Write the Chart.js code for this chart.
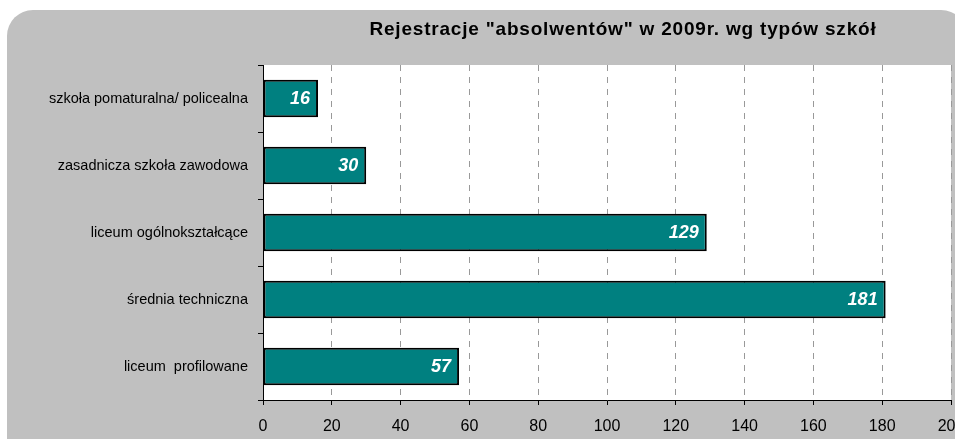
<!DOCTYPE html>
<html>
<head>
<meta charset="utf-8">
<script src="https://cdn.jsdelivr.net/npm/chart.js@4.4.0/dist/chart.umd.min.js"></script>
<style>
  html, body { margin: 0; padding: 0; background: #fff; }
  #wrap { width: 955px; height: 439px; position: relative; }
</style>
</head>
<body>
<div id="wrap"><canvas id="schoolChart"></canvas></div>
<script>
// data
const chartTitle = 'Rejestracje "absolwentów" w 2009r. wg typów szkół';
const schoolTypes = [
  'szkoła pomaturalna/ policealna',
  'zasadnicza szkoła zawodowa',
  'liceum ogólnokształcące',
  'średnia techniczna',
  'liceum  profilowane'
];
const registrations = [16, 30, 129, 181, 57];
const axisMin = 0;
const axisMax = 200;
const axisStep = 20;

const FONT = 'Arial, "Liberation Sans", sans-serif';

// gray rounded panel + white plot area + title
const panelPlugin = {
  id: 'panel',
  beforeDraw(chart) {
    const { ctx, chartArea } = chart;
    ctx.save();
    ctx.fillStyle = '#c0c0c0';
    ctx.beginPath();
    ctx.roundRect(7, 10, 960, 460, 26);
    ctx.fill();
    ctx.fillStyle = '#ffffff';
    ctx.fillRect(chartArea.left, chartArea.top, chartArea.right - chartArea.left, chartArea.bottom - chartArea.top);
    ctx.fillStyle = '#000';
    ctx.font = 'bold 19px ' + FONT;
    ctx.letterSpacing = '0.8px';
    ctx.textAlign = 'center';
    ctx.textBaseline = 'middle';
    ctx.fillText(chartTitle, 623, 30);
    ctx.restore();
  }
};

// value labels inside the bar ends
const valueLabels = {
  id: 'valueLabels',
  afterDatasetsDraw(chart) {
    const { ctx } = chart;
    const meta = chart.getDatasetMeta(0);
    ctx.save();
    ctx.fillStyle = '#ffffff';
    ctx.font = 'italic bold 18px ' + FONT;
    ctx.textAlign = 'right';
    ctx.textBaseline = 'middle';
    meta.data.forEach((bar, i) => {
      ctx.fillText(String(registrations[i]), bar.x - 8, bar.y + 1);
    });
    ctx.restore();
  }
};

const ctx = document.getElementById('schoolChart').getContext('2d');
new Chart(ctx, {
  type: 'bar',
  data: {
    labels: schoolTypes,
    datasets: [{
      data: registrations,
      backgroundColor: '#008080',
      borderColor: '#000000',
      borderWidth: 2,
      borderSkipped: false,
      categoryPercentage: 1,
      barPercentage: 0.56
    }]
  },
  options: {
    indexAxis: 'y',
    responsive: true,
    maintainAspectRatio: false,
    animation: false,
    layout: { padding: { left: 0, right: 4, top: 65, bottom: 0 } },
    plugins: {
      legend: { display: false },
      tooltip: { enabled: false },
      title: { display: false }
    },
    scales: {
      x: {
        min: axisMin,
        max: axisMax,
        ticks: {
          stepSize: axisStep,
          color: '#000',
          font: { family: FONT, size: 16 },
          padding: 12,
          maxRotation: 0
        },
        grid: {
          color: '#999999',
          lineWidth: 1,
          tickColor: '#000',
          tickLength: 5,
          drawTicks: true
        },
        border: { display: true, color: '#000', width: 1, dash: [6, 6] },
        afterFit(scale) {
          scale.height = 39;
          scale.paddingLeft = 0;
          scale.paddingRight = 0;
        }
      },
      y: {
        ticks: {
          color: '#000',
          font: { family: FONT, size: 14.5 },
          padding: 10
        },
        grid: {
          offset: true,
          drawOnChartArea: false,
          color: '#000',
          tickColor: '#000',
          tickLength: 5
        },
        border: { display: true, color: '#000', width: 1 },
        afterFit(scale) {
          scale.width = 263;
        }
      }
    }
  },
  plugins: [panelPlugin, valueLabels]
});
</script>
</body>
</html>
